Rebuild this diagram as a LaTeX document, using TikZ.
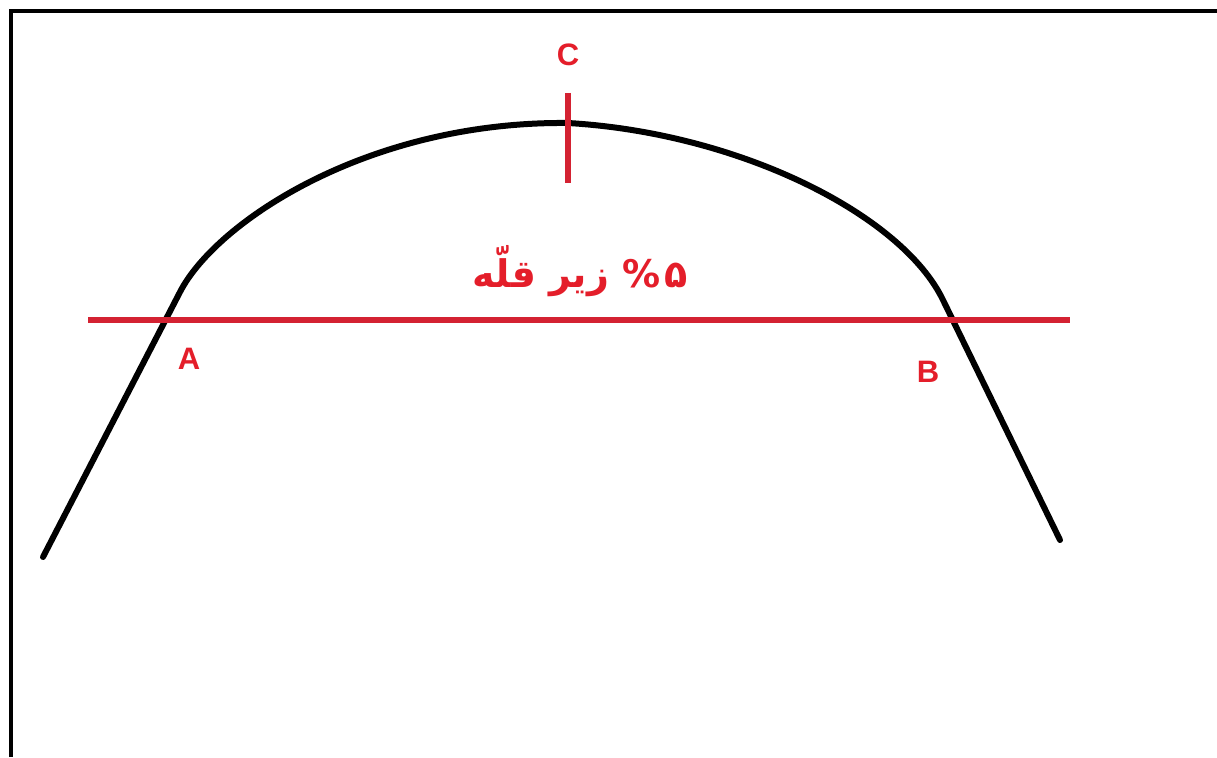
\documentclass[tikz,border=0pt]{standalone}
\usepackage{fontspec}
\setmainfont{Liberation Sans}
\newfontfamily\arabicfont[Script=Arabic]{DejaVu Sans}
\TeXXeTstate=1
\definecolor{lred}{RGB}{212,34,50}
\definecolor{tred}{RGB}{228,30,42}
\tikzset{
  frameline/.style={line width=4pt, black},
  curveline/.style={line width=6pt, black, line cap=round, line join=round},
  redline/.style={line width=6pt, lred},
  ptlabel/.style={text=tred, font=\fontsize{31}{31}\selectfont\bfseries, inner sep=0pt},
  arlabel/.style={text=tred, font=\fontsize{38}{44}\selectfont\arabicfont\bfseries, inner sep=0pt}
}
\begin{document}
\begin{tikzpicture}[x=1pt,y=-1pt]
\useasboundingbox (0,0) rectangle (1217,757);
\fill[white] (0,0) rectangle (1217,757);
% frame
\coordinate (FB) at (11,757);
\coordinate (FC) at (11,11);
\coordinate (FR) at (1217,11);
\draw[frameline] (FB) -- (FC) -- (FR);
% curve
\coordinate (S) at (43,557);
\coordinate (P1) at (180,292);
\coordinate (Top) at (568,123);
\coordinate (P2) at (943,300);
\coordinate (E) at (1060,540);
\draw[curveline] (S) -- (P1)
  .. controls (216,222) and (368,121) .. (Top)
  .. controls (740,133) and (902,215) .. (P2) -- (E);
% horizontal red line
\coordinate (L) at (88,320);
\coordinate (R) at (1070,320);
\draw[redline] (L) -- (R);
% tick at C
\coordinate (Ct) at (568,93);
\coordinate (Cb) at (568,183);
\draw[redline] (Ct) -- (Cb);
% labels
\node[ptlabel] (C) at (568,55) {C};
\node[ptlabel] (A) at (189,359) {A};
\node[ptlabel] (B) at (928,372) {B};
\node[arlabel] (T) at (580,271) {\beginR ۵\kern4pt\% زیر قلّه\endR};
\end{tikzpicture}
\end{document}
